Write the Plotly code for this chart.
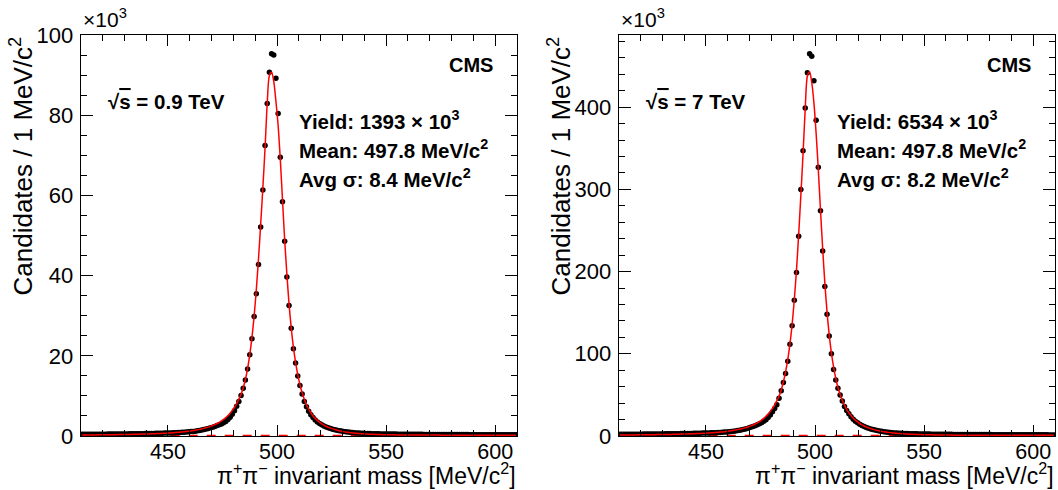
import numpy as np
import plotly.graph_objects as go

# ---------------- data (1 MeV bins, 410-610 MeV) ----------------
bin_lo, bin_hi, bin_w = 410, 610, 1

# 0.9 TeV data (x10^3 candidates / bin)
data_09 = [
    0.42, 0.42, 0.43, 0.43, 0.43, 0.44, 0.44, 0.45, 0.45, 0.46,
    0.46, 0.46, 0.47, 0.47, 0.48, 0.48, 0.49, 0.50, 0.50, 0.51,
    0.52, 0.53, 0.54, 0.55, 0.55, 0.56, 0.57, 0.58, 0.59, 0.60,
    0.60, 0.62, 0.63, 0.65, 0.66, 0.68, 0.69, 0.70, 0.72, 0.73,
    0.75, 0.77, 0.80, 0.82, 0.85, 0.88, 0.91, 0.95, 1.00, 1.05,
    1.10, 1.15, 1.20, 1.30, 1.40, 1.50, 1.60, 1.75, 1.90, 2.05,
    2.20, 2.40, 2.60, 2.80, 3.00, 3.30, 3.60, 4.10, 4.70, 5.40,
    6.30, 7.40, 8.60,
    10.1, 11.9, 14.0, 16.7, 20.3, 24.3, 29.8, 35.5, 42.8, 52.2,
    61.4, 72.5, 83.0, 90.8, 95.4, 95.1, 89.3, 80.5, 69.6, 58.5,
    48.6, 39.7, 32.6, 26.9, 21.8, 18.2, 15.0, 12.6, 10.5, 8.6,
    7.3, 6.2, 5.3, 4.6, 4.0, 3.5, 3.1, 2.8, 2.5, 2.25,
    2.05, 1.85, 1.70, 1.55, 1.43, 1.32, 1.22, 1.13, 1.05, 0.98,
    0.92, 0.87, 0.82, 0.78, 0.74, 0.71, 0.68, 0.65, 0.63, 0.61,
    0.59, 0.57, 0.56, 0.54, 0.53, 0.52, 0.51, 0.50, 0.49, 0.48,
    0.47, 0.47, 0.46, 0.45, 0.45, 0.44, 0.44, 0.43, 0.43, 0.42,
    0.42, 0.41, 0.41, 0.41, 0.40, 0.40, 0.40, 0.39, 0.39, 0.39,
    0.38, 0.38, 0.38, 0.37, 0.37, 0.37, 0.37, 0.36, 0.36, 0.36,
    0.36, 0.35, 0.35, 0.35, 0.35, 0.34, 0.34, 0.34, 0.34, 0.34,
    0.33, 0.33, 0.33, 0.33, 0.33, 0.33, 0.33, 0.33, 0.33, 0.33,
    0.33, 0.32, 0.32, 0.32, 0.32, 0.32, 0.32,
]

fit_09 = [
    0.25, 0.25, 0.26, 0.26, 0.27, 0.27, 0.28, 0.28, 0.29, 0.29,
    0.30, 0.31, 0.31, 0.32, 0.33, 0.33, 0.34, 0.35, 0.36, 0.37,
    0.38, 0.39, 0.40, 0.41, 0.42, 0.43, 0.45, 0.46, 0.48, 0.49,
    0.51, 0.53, 0.55, 0.57, 0.59, 0.61, 0.64, 0.66, 0.69, 0.72,
    0.75, 0.79, 0.83, 0.87, 0.91, 0.96, 1.01, 1.07, 1.13, 1.20,
    1.27, 1.35, 1.44, 1.54, 1.65, 1.77, 1.90, 2.05, 2.22, 2.41,
    2.62, 2.85, 3.11, 3.41, 3.75, 4.14, 4.59, 5.10, 5.70, 6.40,
    7.20, 8.10, 9.20,
    10.4, 12.0, 14.1, 16.8, 20.3, 24.6, 30.0, 36.5, 44.2, 52.8,
    62.0, 71.8, 83.0, 90.0, 90.8, 88.5, 83.5, 77.5, 69.0, 59.0,
    49.0, 40.5, 33.0, 27.0, 22.2, 18.4, 15.3, 12.8, 10.8, 9.2,
    7.8, 6.7, 5.8, 5.0, 4.4, 3.9, 3.45, 3.05, 2.72, 2.43,
    2.18, 1.96, 1.77, 1.60, 1.45, 1.32, 1.20, 1.09, 1.00, 0.92,
    0.84, 0.78, 0.72, 0.67, 0.62, 0.58, 0.54, 0.51, 0.48, 0.45,
    0.43, 0.41, 0.39, 0.37, 0.35, 0.34, 0.33, 0.32, 0.31, 0.30,
    0.29, 0.28, 0.28, 0.27, 0.27, 0.26, 0.26, 0.25, 0.25, 0.25,
    0.24, 0.24, 0.24, 0.23, 0.23, 0.23, 0.23, 0.22, 0.22, 0.22,
    0.22, 0.22, 0.21, 0.21, 0.21, 0.21, 0.21, 0.21, 0.20, 0.20,
    0.20, 0.20, 0.20, 0.20, 0.20, 0.19, 0.19, 0.19, 0.19, 0.19,
    0.19, 0.19, 0.19, 0.19, 0.18, 0.18, 0.18, 0.18, 0.18, 0.18,
    0.18, 0.18, 0.18, 0.18, 0.18, 0.17, 0.17,
]

# 7 TeV data (x10^3 candidates / bin)
data_7 = [
    2.0, 2.0, 2.0, 2.1, 2.1, 2.1, 2.1, 2.2, 2.2, 2.2,
    2.2, 2.3, 2.3, 2.3, 2.3, 2.4, 2.4, 2.4, 2.5, 2.5,
    2.5, 2.6, 2.6, 2.7, 2.7, 2.7, 2.8, 2.8, 2.9, 2.9,
    3.0, 3.0, 3.1, 3.1, 3.2, 3.3, 3.3, 3.4, 3.5, 3.6,
    3.7, 3.8, 3.9, 4.0, 4.1, 4.3, 4.4, 4.6, 4.8, 5.0,
    5.3, 5.5, 5.8, 6.2, 6.6, 7.1, 7.6, 8.2, 8.9, 9.7,
    10.6, 11.5, 12.5, 13.6, 14.8, 16.2, 17.8, 19.8, 22.4, 25.5,
    29.5, 33.5, 38.0,
    46.0, 55.0, 65.0, 76.0, 91.0, 111.5, 134.0, 165.0, 199.0, 243.0,
    300.0, 347.0, 399.0, 442.0, 465.0, 462.0, 432.0, 384.0, 327.0, 274.0,
    225.0, 182.0, 148.0, 121.5, 100.0, 81.0, 68.0, 58.0, 50.0, 42.5,
    36.0, 31.0, 27.0, 23.5, 20.5, 18.0, 16.0, 14.3, 12.8, 11.5,
    10.4, 9.4, 8.6, 7.9, 7.2, 6.7, 6.2, 5.7, 5.3, 4.9,
    4.6, 4.3, 4.0, 3.8, 3.6, 3.4, 3.2, 3.1, 3.0, 2.9,
    2.8, 2.7, 2.6, 2.6, 2.5, 2.5, 2.4, 2.4, 2.3, 2.3,
    2.2, 2.2, 2.2, 2.1, 2.1, 2.1, 2.0, 2.0, 2.0, 2.0,
    1.9, 1.9, 1.9, 1.9, 1.9, 1.8, 1.8, 1.8, 1.8, 1.8,
    1.8, 1.7, 1.7, 1.7, 1.7, 1.7, 1.7, 1.7, 1.6, 1.6,
    1.6, 1.6, 1.6, 1.6, 1.6, 1.6, 1.5, 1.5, 1.5, 1.5,
    1.5, 1.5, 1.5, 1.5, 1.5, 1.4, 1.4, 1.4, 1.4, 1.4,
    1.4, 1.4, 1.4, 1.4, 1.3, 1.3, 1.3,
]

fit_7 = [
    1.2, 1.2, 1.2, 1.2, 1.3, 1.3, 1.3, 1.3, 1.4, 1.4,
    1.4, 1.5, 1.5, 1.5, 1.6, 1.6, 1.6, 1.7, 1.7, 1.8,
    1.8, 1.8, 1.9, 1.9, 2.0, 2.0, 2.1, 2.2, 2.3, 2.3,
    2.4, 2.5, 2.6, 2.7, 2.8, 2.9, 3.0, 3.1, 3.2, 3.4,
    3.5, 3.7, 3.9, 4.1, 4.3, 4.5, 4.8, 5.0, 5.3, 5.6,
    6.0, 6.4, 6.8, 7.2, 7.8, 8.3, 8.9, 9.6, 10.4, 11.3,
    12.3, 13.4, 14.6, 16.0, 17.6, 19.4, 21.5, 24.0, 26.8, 30.0,
    33.7, 38.0, 43.0,
    48.5, 56.0, 66.0, 78.0, 93.0, 112.0, 136.0, 166.0, 202.0, 245.0,
    293.0, 343.0, 398.0, 438.0, 443.0, 430.0, 405.0, 368.0, 324.0, 275.0,
    228.0, 186.0, 151.0, 123.0, 101.0, 84.0, 70.0, 59.0, 50.5, 43.5,
    37.5, 32.5, 28.3, 24.8, 21.8, 19.3, 17.1, 15.2, 13.6, 12.2,
    11.0, 9.9, 9.0, 8.2, 7.4, 6.8, 6.2, 5.7, 5.2, 4.8,
    4.4, 4.1, 3.8, 3.5, 3.3, 3.0, 2.8, 2.6, 2.5, 2.3,
    2.2, 2.1, 2.0, 1.9, 1.8, 1.7, 1.6, 1.55, 1.5, 1.45,
    1.40, 1.35, 1.30, 1.26, 1.22, 1.18, 1.15, 1.12, 1.10, 1.08,
    1.06, 1.04, 1.02, 1.00, 0.99, 0.98, 0.97, 0.96, 0.95, 0.94,
    0.93, 0.92, 0.91, 0.90, 0.90, 0.89, 0.88, 0.88, 0.87, 0.87,
    0.86, 0.86, 0.85, 0.85, 0.84, 0.84, 0.84, 0.83, 0.83, 0.83,
    0.82, 0.82, 0.82, 0.81, 0.81, 0.81, 0.80, 0.80, 0.80, 0.80,
    0.79, 0.79, 0.79, 0.79, 0.78, 0.78, 0.78,
]

# background component (dashed), end points
bkg_x = [410, 610]
bkg_09 = [0.15, 0.10]
bkg_7 = [0.6, 0.4]

y_max = [100.1, 487.8]
energy_labels = ["0.9 TeV", "7 TeV"]
yields = ["1393", "6534"]
means = ["497.8", "497.8"]
sigmas = ["8.4", "8.2"]

centers = np.arange(bin_lo, bin_hi, bin_w) + bin_w / 2.0

# ---------------- figure ----------------
W, H = 1058, 490
FONT = "Liberation Sans"
px = lambda v: v / W
py = lambda v: (H - v) / H

x_dom = [[px(80.7), px(517.0)], [px(618.7), px(1055.0)]]
y_dom = [py(436.0), py(35.0)]

fig = go.Figure()
panels = [(data_09, fit_09, bkg_09), (data_7, fit_7, bkg_7)]
for i, (d, f, b) in enumerate(panels):
    xa = "x" if i == 0 else "x2"
    ya = "y" if i == 0 else "y2"
    fig.add_trace(go.Scatter(x=bkg_x, y=b, mode="lines", xaxis=xa, yaxis=ya,
                             line=dict(color="red", width=1.5, dash="dash"),
                             showlegend=False, hoverinfo="skip"))
    fig.add_trace(go.Scatter(x=centers, y=d, mode="markers", xaxis=xa, yaxis=ya,
                             marker=dict(color="black", size=5.5, line=dict(width=0)),
                             showlegend=False))
    fig.add_trace(go.Scatter(x=centers, y=f, mode="lines", xaxis=xa, yaxis=ya,
                             line=dict(color="red", width=1.5, shape="spline", smoothing=0.8),
                             showlegend=False, hoverinfo="skip"))

axis_common = dict(showgrid=False, zeroline=False, showline=True, linecolor="black",
                   linewidth=1.2, mirror="ticks", ticks="inside", tickcolor="black",
                   tickwidth=1, automargin=False)

for i in range(2):
    sfx = "" if i == 0 else "2"
    fig.update_layout(**{
        "xaxis" + sfx: dict(axis_common, domain=x_dom[i], range=[bin_lo, bin_hi],
                            anchor="y" + sfx, tick0=0, dtick=50, ticklen=11,
                            minor=dict(dtick=10, ticks="inside", ticklen=6,
                                       tickcolor="black", tickwidth=1),
                            tickfont=dict(family=FONT, size=21.5, color="black"),
                            ticklabelstandoff=-4),
        "yaxis" + sfx: dict(axis_common, domain=y_dom, range=[0, y_max[i]],
                            anchor="x" + sfx, tick0=0, dtick=20 if i == 0 else 100,
                            ticklen=12,
                            minor=dict(dtick=5 if i == 0 else 20, ticks="inside",
                                       ticklen=6, tickcolor="black", tickwidth=1),
                            tickfont=dict(family=FONT, size=22, color="black"),
                            ticklabelstandoff=2),
    })

ann = []
offs = [0.0, 538.0]
for i in range(2):
    o = offs[i]
    # y axis title
    ann.append(dict(text="Candidates / 1 MeV/c<sup>2</sup>", x=px(22 + o), y=py(35),
                    xref="paper", yref="paper", xanchor="center", yanchor="top",
                    textangle=-90, showarrow=False,
                    font=dict(family=FONT, size=26, color="black")))
    # x axis title
    ann.append(dict(text="π<sup>+</sup>π<sup>−</sup> invariant mass [MeV/c<sup>2</sup>]",
                    x=x_dom[i][1], y=py(490), xref="paper", yref="paper",
                    xanchor="right", yanchor="bottom", showarrow=False, borderpad=0,
                    font=dict(family=FONT, size=23, color="black")))
    # exponent
    ann.append(dict(text="×10<sup>3</sup>", x=x_dom[i][0], y=py(33), xref="paper",
                    yref="paper", xanchor="left", yanchor="bottom", showarrow=False,
                    font=dict(family=FONT, size=21, color="black")))
    # CMS
    ann.append(dict(text="<b>CMS</b>", x=px(495 + o), y=py(65), xref="paper",
                    yref="paper", xanchor="right", yanchor="middle", showarrow=False,
                    font=dict(family=FONT, size=20, color="black")))
    # sqrt(s)
    ann.append(dict(text="<b>√<span style='text-decoration:overline'>s</span> = "
                         + energy_labels[i] + "</b>",
                    x=px(106 + o), y=py(101), xref="paper", yref="paper",
                    xanchor="left", yanchor="middle", showarrow=False,
                    font=dict(family=FONT, size=20.5, color="black")))
    lines = ["<b>Yield: " + yields[i] + " × 10<sup>3</sup></b>",
             "<b>Mean: " + means[i] + " MeV/c<sup>2</sup></b>",
             "<b>Avg σ: " + sigmas[i] + " MeV/c<sup>2</sup></b>"]
    for k, t in enumerate(lines):
        ann.append(dict(text=t, x=px(297 + o), y=py(120 + 29 * k), xref="paper",
                        yref="paper", xanchor="left", yanchor="middle", showarrow=False,
                        font=dict(family=FONT, size=20.5, color="black")))

fig.update_layout(width=W, height=H, margin=dict(l=0, r=0, t=0, b=0),
                  paper_bgcolor="white", plot_bgcolor="white", annotations=ann,
                  showlegend=False)

fig.write_html("out.html", config={"displayModeBar": False},
               post_script="document.body.style.margin='0';"
                           "document.body.style.padding='0';"
                           "document.body.style.overflow='hidden';")
